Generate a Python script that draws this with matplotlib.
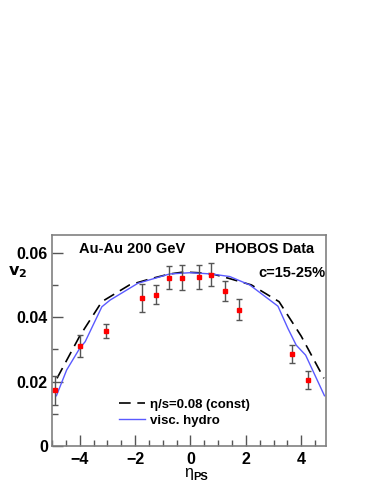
import matplotlib
matplotlib.use("Agg")
import matplotlib.pyplot as plt
from matplotlib.ticker import MultipleLocator
import numpy as np

plt.rcParams['font.family'] = ['Liberation Sans', 'DejaVu Sans']

# PHOBOS data
eta_data = [-4.88, -4.0, -3.05, -1.75, -1.24, -0.76, -0.3, 0.3, 0.745, 1.25, 1.75, 3.66, 4.23]
v2_data = [0.0173, 0.0310, 0.0357, 0.0459, 0.0470, 0.0523, 0.0523, 0.0525, 0.0532, 0.0482, 0.0423, 0.0285, 0.0205]
v2_err = [0.0045, 0.0035, 0.0021, 0.0043, 0.0030, 0.0035, 0.0040, 0.0037, 0.0036, 0.0031, 0.0032, 0.0028, 0.0028]

# eta/s = 0.08 (const), dashed
eta_const = [-4.82, -4.0, -3.2, -2.2, -1.4, -0.75, -0.25, 0.25, 0.8, 1.4, 2.2, 3.2, 4.0, 4.82]
v2_const = [0.0210, 0.0341, 0.0448, 0.0500, 0.0520, 0.0534, 0.0540, 0.0538, 0.0534, 0.0520, 0.0500, 0.0448, 0.0341, 0.0210]

# visc. hydro, blue
eta_hydro = [-4.84, -4.47, -4.0, -3.8, -3.2, -2.9, -1.9, -0.75, 0.0, 0.75, 1.42, 2.14, 3.16, 3.52, 3.82, 4.16, 4.84]
v2_hydro = [0.0156, 0.0236, 0.0303, 0.0324, 0.0432, 0.0453, 0.0505, 0.0534, 0.0538, 0.0534, 0.0526, 0.0500, 0.0434, 0.0365, 0.0313, 0.0282, 0.0156]

fig = plt.figure(figsize=(3.74, 4.84), dpi=100)
ax = fig.add_axes([0.139, 0.0785, 0.733, 0.436])

ax.plot(eta_const, v2_const, color='black', lw=1.2, dashes=(7, 4), label='η/s=0.08 (const)')
ax.plot(eta_hydro, v2_hydro, color='#5a5aff', lw=1.0, label='visc. hydro')
ax.errorbar(eta_data, v2_data, yerr=v2_err, fmt='s', color='red', ms=3.2, mec='red',
            ecolor='#555555', elinewidth=1.0, capsize=2, capthick=1.0, zorder=5)

ax.set_xlim(-5.0, 4.9)
ax.set_ylim(0, 0.0655)
ax.xaxis.set_major_locator(MultipleLocator(2))
ax.xaxis.set_minor_locator(MultipleLocator(0.5))
ax.yaxis.set_minor_locator(MultipleLocator(0.01))
ax.set_yticks([0, 0.02, 0.04, 0.06])
ax.set_yticklabels(['0', '0.02', '0.04', '0.06'])
ax.tick_params(which='both', direction='in', color='#555555', top=False, right=False)
ax.tick_params(which='major', length=8, width=1, labelsize=11.5)
ax.tick_params(axis='x', which='major', pad=4)
ax.tick_params(axis='y', which='major', pad=3)
ax.tick_params(which='minor', length=4, width=1)
for lab in ax.get_xticklabels() + ax.get_yticklabels():
    lab.set_fontweight('bold')
for sp in ax.spines.values():
    sp.set_color('#808080')
    sp.set_linewidth(1.2)

ax.text(0.292, 0.965, 'Au-Au 200 GeV', transform=ax.transAxes, fontsize=10.5, fontweight='bold', ha='center', va='top')
ax.text(0.776, 0.965, 'PHOBOS Data', transform=ax.transAxes, fontsize=10.5, fontweight='bold', ha='center', va='top')
ax.text(0.998, 0.855, 'c=15-25%', transform=ax.transAxes, fontsize=10.5, fontweight='bold', ha='right', va='top')

leg = ax.legend(loc='lower left', bbox_to_anchor=(0.2, 0.035), frameon=False,
                handlelength=2.0, handletextpad=0.4, labelspacing=0.3, prop={'weight': 'bold', 'size': 9.5})

fig.text(0.516, 0.024, 'η', fontsize=11.5, ha='right', va='center')
fig.text(0.516, 0.015, 'PS', fontsize=8, fontweight='bold', ha='left', va='center')
fig.text(0.022, 0.437, r'$\mathbf{v_2}$', fontsize=11.5, ha='left', va='center')

fig.savefig('out.png', dpi=100)
